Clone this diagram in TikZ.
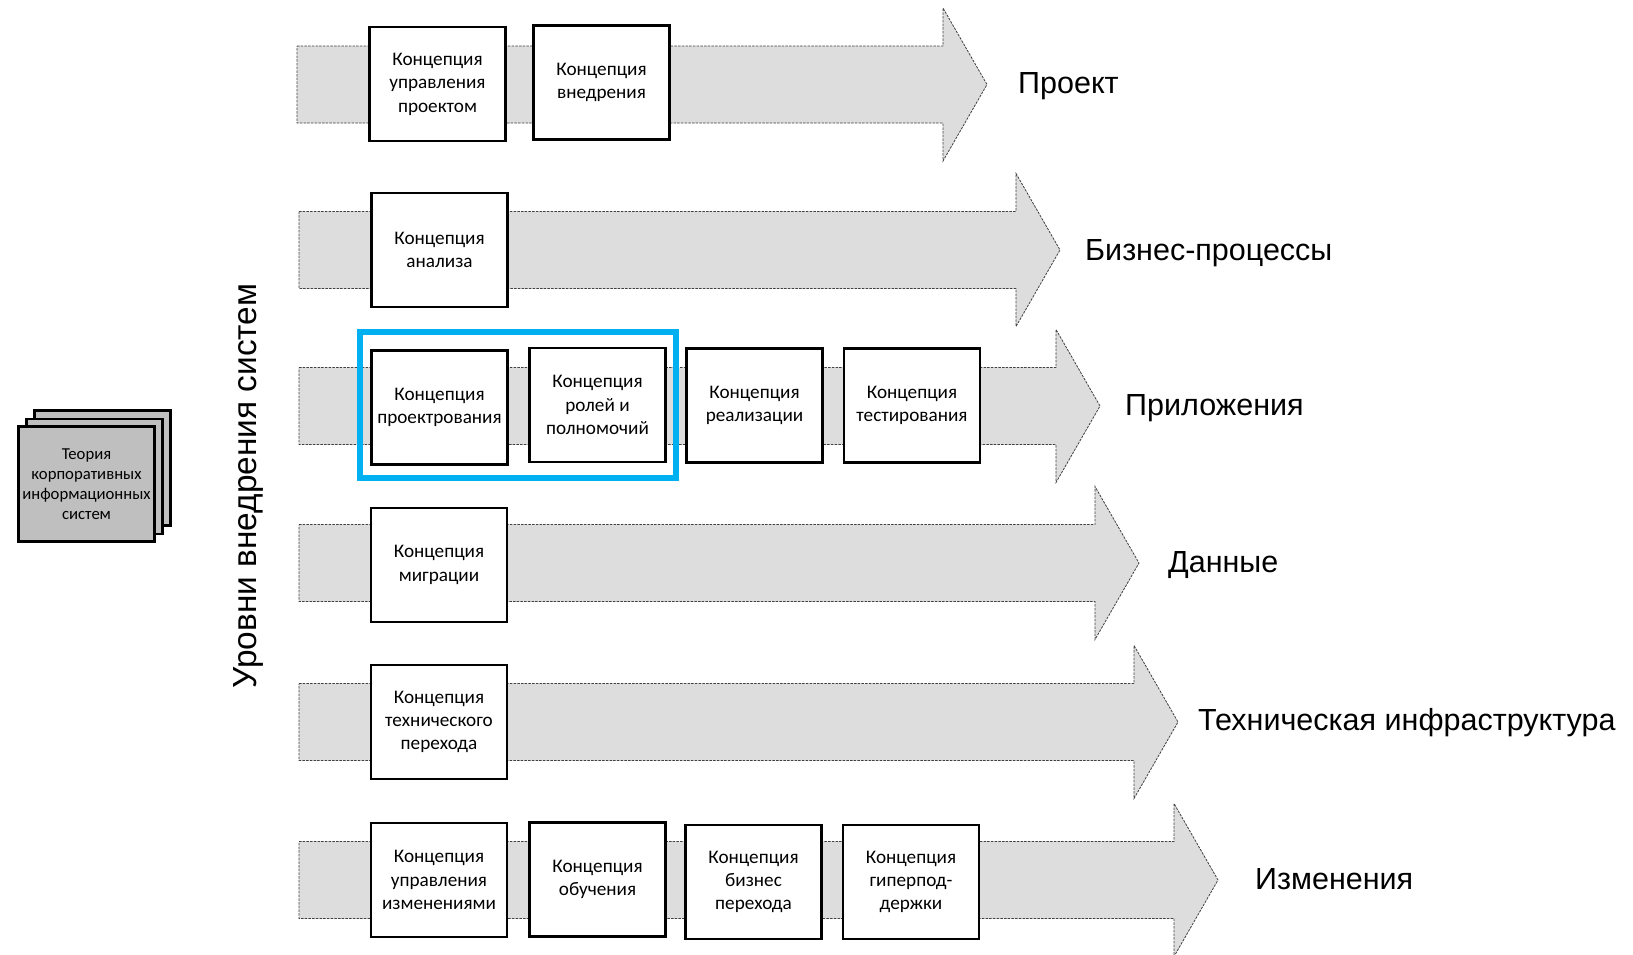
\documentclass[tikz,border=0pt]{standalone}
\usepackage{fontspec}
\setmainfont{Carlito}
\newfontfamily\arialf{Liberation Sans}
\definecolor{arrowfill}{HTML}{DDDDDD}
\definecolor{stackfill}{HTML}{BFBFBF}
\definecolor{hiblue}{HTML}{00B0F0}
\newcommand\levelarrow[4]{%
  \draw[arr] (#2,#3-38.5) -- (#4,#3-38.5) -- (#4,#3-76.5) -- (#4+44,#3) -- (#4,#3+76.5) -- (#4,#3+38.5) -- (#2,#3+38.5) -- cycle;
  \coordinate (#1) at (#4+44,#3);}
\begin{document}
\begin{tikzpicture}[x=1pt,y=-1pt,
  arr/.style={draw=black!75, line width=0.8pt, dash pattern=on 2.5pt off 1.2pt, fill=arrowfill},
  cbox/.style={draw=black, line width=2.8pt, fill=white, minimum width=136pt, minimum height=114pt, align=center, font=\fontsize{19.2}{23.4}\selectfont, inner sep=2pt},
  sbox/.style={draw=black, line width=2.6pt, fill=stackfill, minimum width=136pt, minimum height=115pt, align=center, font=\fontsize{16.7}{20.2}\selectfont, inner sep=1pt},
  lbl/.style={anchor=west, font=\arialf\fontsize{30.5}{36}\selectfont, inner sep=0pt}]
\useasboundingbox (0,0) rectangle (1633,954);
% level arrows
\levelarrow{t1}{297}{84.5}{943}
\levelarrow{t2}{299}{250}{1016}
\levelarrow{t3}{299}{406}{1056}
\levelarrow{t4}{299}{563}{1095}
\levelarrow{t5}{299}{722}{1134}
\levelarrow{t6}{299}{880}{1174}
% boxes
\node[cbox] (b11) at (437.5,84) {Концепция\\управления\\проектом};
\node[cbox] (b12) at (601.5,82.5) {Концепция\\внедрения};
\node[cbox] (b21) at (439.5,250) {Концепция\\анализа};
\node[cbox] (b31) at (439.5,407.5) {Концепция\\проектрования};
\node[cbox] (b32) at (597.5,405) {Концепция\\ролей и\\полномочий};
\node[cbox] (b33) at (754.5,405.5) {Концепция\\реализации};
\node[cbox] (b34) at (912,405.5) {Концепция\\тестирования};
\node[cbox] (b41) at (439,565) {Концепция\\миграции};
\node[cbox] (b51) at (439,722) {Концепция\\технического\\перехода};
\node[cbox] (b61) at (439,880) {Концепция\\управления\\изменениями};
\node[cbox] (b62) at (597.5,879.5) {Концепция\\обучения};
\node[cbox] (b63) at (753.5,882) {Концепция\\бизнес\\перехода};
\node[cbox] (b64) at (911,882) {Концепция\\гиперпод-\\держки};
% highlight
\node[draw=hiblue, line width=6pt, inner sep=0pt, minimum width=316pt, minimum height=146pt] (hl) at (518,405) {};
% labels
\node[lbl] (l1) at (1018,86) {Проект};
\node[lbl] (l2) at (1085,253) {Бизнес-процессы};
\node[lbl] (l3) at (1125,408) {Приложения};
\node[lbl] (l4) at (1168,565) {Данные};
\node[lbl] (l5) at (1198,723) {Техническая инфраструктура};
\node[lbl] (l6) at (1255,879) {Изменения};
% vertical title
\node[rotate=90, font=\arialf\fontsize{33.4}{40}\selectfont, inner sep=0pt] (vt) at (248,486) {Уровни внедрения систем};
% stacked theory box
\node[sbox] (s3) at (102.5,468) {};
\node[sbox] (s2) at (94.5,476.5) {};
\node[sbox] (s1) at (86.5,484) {Теория\\корпоративных\\информационных\\систем};
\end{tikzpicture}
\end{document}
